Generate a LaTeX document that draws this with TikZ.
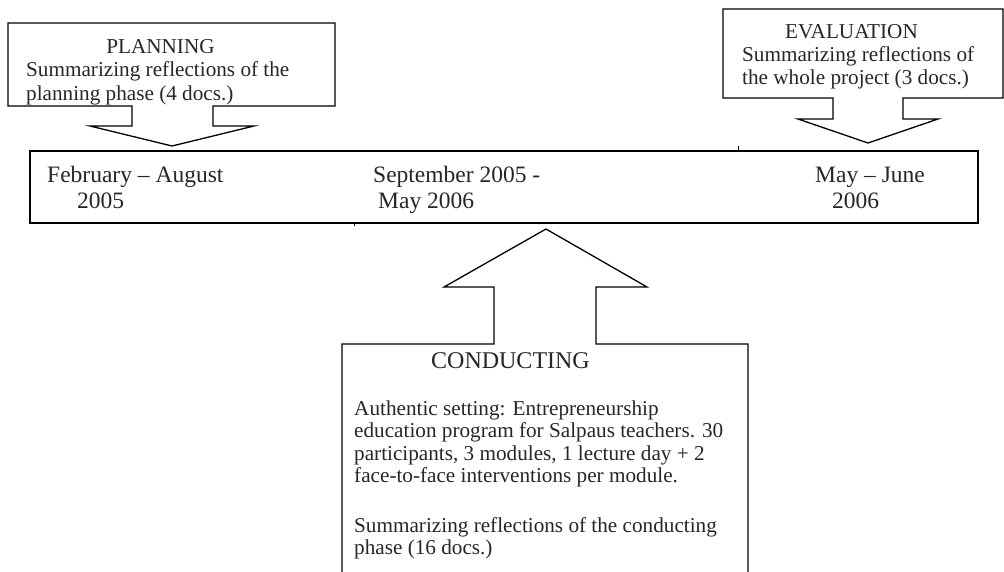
\documentclass[tikz,border=0pt]{standalone}
\usepackage{fontspec}
\setmainfont{Liberation Serif}
\begin{document}
\begin{tikzpicture}[x=1pt,y=-1pt,
  outl/.style={draw=black,line width=1.3pt,line join=miter},
  sm/.style={inner sep=0pt,anchor=base west,font=\fontsize{21.2}{23}\selectfont,text=black!85},
  smc/.style={sm,anchor=base},
  bg/.style={inner sep=0pt,anchor=base west,font=\fontsize{23.5}{26}\selectfont,text=black!85},
  tick/.style={draw=black,line width=1pt}]
\useasboundingbox (0,0) rectangle (1004,571);
\begin{scope}
\clip (0,0) rectangle (1004,571);
% planning callout
\draw[outl] (8,23) -- (335,23) -- (335,106) -- (213,106) -- (213,126) -- (254,126)
  -- (172,146) -- (90,126) -- (132,126) -- (132,106) -- (8,106) -- cycle;
% evaluation callout
\draw[outl] (723,9) -- (1003,9) -- (1003,98) -- (903,98) -- (903,119) -- (938,119)
  -- (868,143) -- (798,119) -- (833,119) -- (833,98) -- (723,98) -- cycle;
% timeline box
\draw[outl] (30,151) rectangle (978,223);
\draw[tick] (354,223) -- (354,226);
\draw[tick] (738,146) -- (738,151);
% conducting callout
\draw[outl] (342,580) -- (342,344) -- (494,344) -- (494,287) -- (444,287) -- (546,229)
  -- (647,287) -- (596,287) -- (596,344) -- (748,344) -- (748,580);
\end{scope}
% planning text
\node[smc] (pt) at (160.5,53) {PLANNING};
\node[sm] (p1) at (26,76.5) {Summarizing reflections of the};
\node[sm] (p2) at (26,100) {planning phase (4 docs.)};
% evaluation text
\node[smc] (et) at (851.5,38) {EVALUATION};
\node[sm] (e1) at (742,61) {Summarizing reflections of};
\node[sm] (e2) at (742,84.5) {the whole project (3 docs.)};
% timeline text
\node[bg] (t1) at (47,182) {February -- August};
\node[bg] (t2) at (77,208) {2005};
\node[bg] (t3) at (373,182) {September 2005 -};
\node[bg] (t4) at (378,208) {May 2006};
\node[bg] (t5) at (815,182) {May -- June};
\node[bg] (t6) at (832,208) {2006};
% conducting text
\node[smc,font=\fontsize{24}{26}\selectfont] (ct) at (510.5,368) {CONDUCTING};
\node[sm] (c1) at (354,415) {Authentic setting: Entrepreneurship};
\node[sm] (c2) at (354,437.5) {education program for Salpaus teachers. 30};
\node[sm] (c3) at (354,460) {participants, 3 modules, 1 lecture day + 2};
\node[sm] (c4) at (354,482) {face-to-face interventions per module.};
\node[sm] (c5) at (354,532) {Summarizing reflections of the conducting};
\node[sm] (c6) at (354,554) {phase (16 docs.)};
\end{tikzpicture}
\end{document}
